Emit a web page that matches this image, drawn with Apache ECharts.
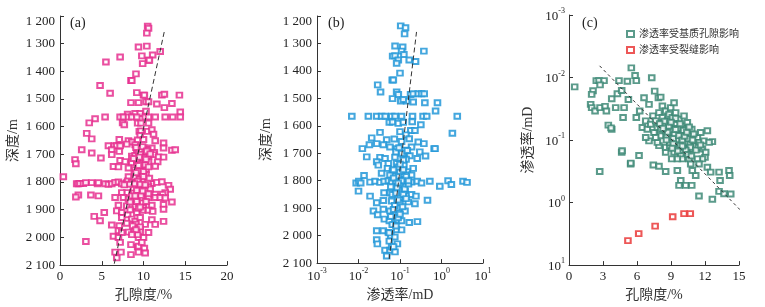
<!DOCTYPE html>
<html><head><meta charset="utf-8">
<script src="https://cdn.jsdelivr.net/npm/echarts@6/dist/echarts.min.js"></script>
<style>html,body{margin:0;padding:0;background:#fff}#c{width:765px;height:307px}</style>
</head><body><div id="c"></div>
<script>
// Panel (a): [porosity %, depth m]
const porosityDepth = [
[10.5,1237],[10.6,1244],[10.4,1262],[9.4,1312],[10.4,1309],[12.0,1328],[9.8,1344],[11.1,1341],[10.6,1360],[10.7,1360],[7.2,1348],[5.5,1366],[9.9,1372],[9.1,1409],[8.5,1433],[8.6,1433],[4.8,1451],[6.0,1479],[9.2,1477],[10.0,1486],[10.1,1486],[12.2,1486],[12.5,1483],[14.3,1486],[8.5,1513],[9.4,1513],[10.3,1510],[10.6,1510],[11.6,1518],[13.4,1516],[12.5,1531],[14.4,1547],[8.1,1555],[9.0,1552],[9.6,1552],[10.3,1544],
[5.4,1565],[7.2,1565],[7.6,1565],[8.2,1565],[8.6,1565],[9.2,1565],[10.2,1565],[10.6,1565],[11.4,1565],[12.6,1565],[13.5,1565],[14.4,1565],
[4.2,1571],[3.5,1586],[7.5,1586],[7.7,1593],[9.3,1587],[9.7,1587],[10.6,1587],
[9.5,1617],[9.7,1615],[10.5,1617],[11.0,1611],[11.2,1627],[9.6,1632],[3.2,1624],[3.8,1644],
[7.1,1646],[8.2,1651],[8.6,1655],[9.3,1648],[10.0,1646],[11.4,1651],[12.4,1659],
[5.8,1669],[6.5,1669],[6.8,1669],[7.2,1669],[8.0,1663],[9.0,1665],[10.1,1676],[11.0,1677],[12.4,1677],
[2.6,1683],[6.2,1683],[6.2,1701],[7.1,1689],[9.2,1683],[10.5,1683],[11.3,1693],[13.4,1685],[13.8,1683],
[3.8,1695],[4.9,1713],[8.6,1707],[9.0,1704],[9.6,1701],[10.0,1695],[10.6,1707],[11.2,1701],[11.8,1709],[12.4,1710],
[1.8,1719],[1.9,1734],[7.2,1722],[7.8,1726],[8.6,1730],[9.2,1728],[9.9,1725],[10.6,1727],[11.7,1727],
[6.4,1744],[7.0,1745],[8.2,1749],[9.0,1755],[9.9,1743],[10.3,1755],[11.4,1743],
[8.9,1769],[9.7,1768],[10.3,1773],[9.0,1782],[9.8,1779],[8.2,1781],[0.4,1781],
[2.0,1806],[2.2,1806],[2.4,1805],[2.8,1805],[3.1,1802],[3.8,1802],[4.5,1806],[4.6,1802],[5.4,1806],[5.8,1808],[6.2,1806],[6.6,1801],[7.0,1800],[7.4,1806],[8.0,1802],[8.1,1796],[8.6,1801],[9.2,1805],[9.7,1805],[9.9,1796],[10.4,1806],[11.0,1805],[11.6,1801],[12.2,1799],
[9.6,1791],[9.8,1826],[10.1,1820],[10.6,1814],
[13.0,1812],[13.2,1826],[12.6,1838],[12.3,1844],[11.4,1844],[10.3,1838],[9.4,1844],[8.8,1838],[8.0,1838],[7.4,1838],
[2.2,1847],[1.9,1854],[3.7,1847],[4.6,1850],
[6.6,1856],[7.6,1856],[8.2,1862],[9.0,1862],[9.8,1859],[10.6,1856],[11.4,1856],[12.0,1856],[12.6,1857],
[13.4,1872],[12.4,1881],[12.4,1898],[11.0,1884],[10.0,1886],[9.0,1888],[8.0,1886],[7.0,1884],
[4.1,1924],[4.8,1940],[5.3,1910],[6.8,1904],[7.4,1910],[8.1,1918],[9.2,1910],[9.9,1902],[10.6,1902],[11.1,1906],
[8.6,1934],[9.0,1942],[9.6,1928],[11.0,1936],[12.4,1942],[7.4,1928],
[6.2,1955],[7.1,1958],[8.0,1949],[9.1,1952],[10.2,1953],[11.4,1953],
[7.0,1976],[7.4,1982],[8.2,1981],[8.9,1976],[9.3,1973],[9.6,1979],[10.6,1982],
[6.4,1996],[7.0,2000],[9.4,2000],[10.0,2000],[3.1,2015],
[7.2,2018],[8.5,2026],[9.3,2035],[9.4,2032],[10.1,2039],[6.6,2053],[9.4,2053],[10.2,2056],[8.5,2062],[6.8,2074],[7.3,2053],
[9.4,1690],[9.8,1688],[10.2,1692],[9.6,1700],[10.0,1712],[9.2,1720],[9.6,1735],[10.2,1738],[9.4,1760],[10.0,1762],[9.5,1790],[10.0,1795],[10.5,1800],[9.0,1812],[9.4,1818],[10.2,1830],[8.8,1822],[9.2,1830],[10.8,1825],[9.7,1848],[8.6,1850],[9.2,1870],[9.9,1875],[9.4,1895],[8.4,1900],[9.2,1965],[9.6,1962],[9.3,1990],
[9.1,1675],[9.9,1672],[10.4,1688],[10.8,1698],[9.5,1710],[10.3,1718],[8.8,1715],[9.4,1740],[10.6,1745],[9.1,1766],[10.0,1780],[10.7,1786],[9.3,1797],[9.6,1808],[10.2,1810],[8.9,1806],[8.3,1808],[7.7,1810],[9.9,1832],[10.6,1842],[9.0,1850],[8.4,1872],[9.6,1890],[10.3,1870],[8.7,1958],[9.1,1972],[8.6,1990],[9.8,2018]
];
const porosityDepthTrend = [[6.5,2095],[12.5,1255]];

// Panel (b): [permeability mD, depth m]
const permeabilityDepth = [
[0.104,1236],[0.136,1243],[0.129,1265],[0.076,1309],[0.116,1313],[0.376,1328],[0.109,1328],[0.0665,1346],[0.076,1345],[0.124,1340],[0.091,1360],[0.083,1372],[0.167,1360],[0.237,1366],[0.10,1408],[0.065,1433],[0.069,1433],[0.029,1451],[0.034,1477],[0.083,1477],[0.091,1486],[0.18,1486],[0.208,1483],[0.275,1483],[0.33,1483],[0.383,1483],
[0.104,1510],[0.144,1510],[0.208,1513],[0.397,1516],[0.80,1516],[0.72,1546],[0.066,1501],[0.12,1504],
[0.0069,1565],[0.0173,1565],[0.0275,1565],[0.036,1565],[0.044,1565],[0.063,1565],[0.076,1565],[0.109,1565],[0.20,1565],[0.36,1565],[0.44,1565],[2.4,1565],
[0.0553,1587],[0.066,1586],[0.091,1591],[0.12,1587],[0.197,1585],[0.318,1596],[0.182,1617],[0.10,1621],[0.139,1633],[0.229,1617],[0.033,1624],[1.83,1627],
[0.0208,1644],[0.0183,1669],[0.0124,1683],[0.0478,1651],[0.073,1648],[0.109,1657],[0.167,1647],[0.275,1659],[0.376,1665],[0.665,1683],[0.70,1683],
[0.0275,1665],[0.0397,1669],[0.0574,1677],[0.083,1683],[0.132,1689],[0.19,1677],[0.30,1695],[0.412,1710],
[0.0158,1713],[0.033,1715],[0.0436,1719],[0.0757,1714],[0.12,1704],[0.173,1709],[0.26,1719],
[0.0275,1731],[0.030,1743],[0.0524,1737],[0.083,1737],[0.124,1743],[0.208,1755],[0.050,1755],
[0.066,1764],[0.10,1767],[0.15,1767],[0.15,1779],[0.19,1779],[0.091,1785],[0.0136,1781],[0.036,1773],[0.0574,1779],
[0.0088,1808],[0.0102,1802],[0.0113,1808],[0.019,1805],[0.0251,1802],[0.033,1806],[0.0413,1802],[0.0524,1800],[0.063,1805],[0.079,1802],[0.10,1805],[0.124,1800],[0.158,1805],[0.19,1805],[0.26,1802],[0.33,1808],[0.524,1802],[0.91,1820],[1.44,1800],[1.73,1814],[3.3,1802],[4.12,1806],
[0.0100,1838],[0.019,1856],[0.0413,1844],[0.0574,1844],[0.083,1838],[0.132,1838],[0.19,1850],[0.242,1856],[0.46,1871],
[0.0275,1880],[0.0397,1872],[0.063,1874],[0.10,1880],[0.158,1877],[0.229,1884],
[0.0229,1910],[0.029,1924],[0.0397,1904],[0.0574,1910],[0.091,1916],[0.132,1910],
[0.042,1940],[0.0553,1946],[0.083,1946],[0.109,1946],[0.167,1952],[0.263,1949],
[0.0275,1982],[0.0397,1982],[0.0524,1988],[0.083,1978],[0.109,1979],
[0.0275,2015],[0.0285,2030],[0.0553,2020],[0.0865,2030],[0.0436,2053],[0.0574,2053],[0.0757,2059],[0.063,2041],[0.0478,2074],
[0.08,1695],[0.11,1700],[0.14,1722],[0.09,1750],[0.12,1760],[0.07,1790],[0.1,1815],[0.085,1825],[0.13,1830],[0.065,1850],[0.1,1862],[0.075,1890],[0.115,1895],[0.06,1930],[0.09,1935],[0.07,1960],[0.06,2000],[0.075,2005],[0.13,1795],[0.16,1812],
[0.095,1680],[0.15,1690],[0.12,1725],[0.1,1740],[0.07,1760],[0.14,1785],[0.11,1800],[0.09,1808],[0.16,1800],[0.06,1822],[0.08,1845],[0.12,1850],[0.09,1870],[0.14,1865],[0.07,1905],[0.1,1922],[0.065,1960],[0.08,1965],[0.055,1990],[0.07,2040]
];
const permeabilityDepthTrend = [[0.055,2085],[0.25,1258]];

// Panel (c): [porosity %, permeability mD]
const matrixPoints = [
[0.5,0.0141],[2.41,0.0112],[2.65,0.0112],[3.09,0.0112],[2.74,0.0131],[2.12,0.0163],[2.0,0.0186],
[1.91,0.0269],[2.0,0.0303],[2.3,0.0343],[2.74,0.0303],[3.18,0.0289],[3.3,0.0343],[4.12,0.0303],[4.86,0.0303],[3.77,0.0218],[4.27,0.0182],[4.65,0.0161],
[3.47,0.0578],[3.77,0.067],[3.71,0.0638],
[4.41,0.0112],[5.15,0.0115],[5.94,0.0112],[5.83,0.0093],[5.5,0.0070],[7.3,0.0101],
[5.24,0.0224],[4.77,0.0437],[5.94,0.0437],[6.24,0.0343],[6.62,0.0211],[7.06,0.0269],[7.56,0.0165],[7.89,0.0211],[8.09,0.0206],
[4.65,0.157],[6.18,0.177],[5.44,0.241],[2.71,0.318],[7.44,0.25],[7.94,0.262],[8.53,0.318],[9.56,0.307],[4.68,0.148],[5.45,0.234],
[6.47,0.063],[6.77,0.0494],[6.91,0.067],[7.21,0.0558],[7.41,0.0411],[7.5,0.0756],[7.65,0.0494],[7.8,0.063],[7.94,0.0364],[8.09,0.0855],
[8.24,0.0285],[8.24,0.0437],[8.39,0.0593],[8.53,0.0711],[8.53,0.0343],[8.68,0.0494],[8.83,0.0908],[8.83,0.0387],[8.97,0.0593],[8.97,0.0303],
[9.12,0.0756],[9.12,0.0437],[9.27,0.109],[9.27,0.0253],[9.41,0.0558],[9.41,0.0364],[9.56,0.0855],[9.56,0.139],[9.71,0.067],[9.71,0.0465],
[9.86,0.109],[9.86,0.177],[10.0,0.0804],[10.0,0.0593],[10.15,0.131],[10.15,0.0411],[10.3,0.0965],[10.3,0.067],[10.44,0.157],[10.44,0.0525],
[10.59,0.116],[10.59,0.2],[10.74,0.0855],[10.83,0.067],[10.88,0.139],[11.03,0.103],[11.18,0.123],[11.33,0.0908],[11.47,0.109],[11.62,0.0756],
[11.77,0.139],[11.91,0.103],[12.06,0.157],[12.21,0.0711],[12.65,0.106],[12.36,0.109],[12.0,0.189],[11.77,0.2],[12.21,0.272],[12.5,0.326],
[11.33,0.2],[11.47,0.241],[11.18,0.369],[10.74,0.241],[10.88,0.307],[10.0,0.2],[9.56,0.2],[9.06,0.2],[8.53,0.157],[7.94,0.123],
[7.8,0.109],[7.06,0.103],[6.77,0.0908],[7.65,0.0908],[8.09,0.067],[8.53,0.131],[8.89,0.123],[9.27,0.157],
[13.24,0.326],[13.33,0.443],[14.12,0.307],[14.18,0.369],[13.24,0.662],[13.68,0.721],[14.27,0.729],[12.65,0.887],[11.47,0.785],
[9.86,0.443],[9.71,0.531],[10.3,0.531],[10.83,0.531],
[9.0,0.07],[9.3,0.08],[9.6,0.065],[9.9,0.09],[10.2,0.11],[9.5,0.1],[9.8,0.12],[8.8,0.06],[8.6,0.085],[10.5,0.095],[10.1,0.07],[9.2,0.095],[8.4,0.05],[8.0,0.055],[10.7,0.13],[11.0,0.08],[9.4,0.045],[8.9,0.11],[10.3,0.145],[11.4,0.13],
[8.7,0.075],[9.0,0.052],[9.4,0.068],[9.7,0.085],[10.0,0.1],[10.2,0.087],[10.4,0.075],[10.6,0.062],[10.0,0.125],[9.2,0.115],[8.6,0.1],[9.6,0.15],[10.9,0.1],[11.2,0.145],[8.3,0.065],[9.8,0.055],[10.5,0.17],[11.6,0.12],[9.1,0.135],[10.8,0.18]
];
const fracturePoints = [[5.2,4.06],[6.15,3.14],[7.6,2.38],[9.15,1.69],[10.15,1.5],[10.7,1.5]];
const porosityPermTrend = [[2.7,0.0065],[15.9,1.84]];

const legendNames = ['渗透率受基质孔隙影响','渗透率受裂缝影响'];
const panelTags = ['(a)','(b)','(c)'];

const FONT = "'Liberation Serif','Noto Sans CJK SC',serif";
const TXT = '#222';
const AX = '#333';
const chart = echarts.init(document.getElementById('c'));

function depthLabel(v){
  const s = String(v); const t = s.charAt(0) + ' ' + s.slice(1);
  return v === 1200 ? '{t|' + t + '}' : t;
}
const depthRich = {t:{fontSize:13,fontFamily:FONT,color:TXT,padding:[11,0,0,0]}};
function powLabel(v){ const e = Math.round(Math.log10(v)); return '{b|10}{s|' + e + '}'; }
const powRich = {
  b:{fontSize:13,fontFamily:FONT,color:TXT,lineHeight:16,verticalAlign:'bottom'},
  s:{fontSize:8,fontFamily:FONT,color:TXT,verticalAlign:'top'}
};
const axisLine = {show:true,lineStyle:{color:AX,width:1}};
const axisTick = {show:true,inside:true,length:4,lineStyle:{color:AX}};
const nameStyle = {fontSize:14,fontFamily:FONT,color:'#333'};

function dash(xi, data, pattern){
  return {type:'line',xAxisIndex:xi,yAxisIndex:xi,data:data,symbol:'none',silent:true,clip:false,
    lineStyle:{color:'#333',width:1,type:pattern},z:5};
}
function scatter(xi, name, data, color){
  return {type:'scatter',name:name,xAxisIndex:xi,yAxisIndex:xi,data:data,symbol:'emptyRect',symbolSize:[5.5,5],
    itemStyle:{color:color,borderColor:color,borderWidth:1,opacity:0.85},silent:true};
}

chart.setOption({
  animation:false,
  backgroundColor:'#fff',
  grid:[
    {left:60,top:16,width:167,height:251},
    {left:317,top:16,width:166,height:251},
    {left:569,top:15,width:170,height:252}
  ],
  xAxis:[
    {gridIndex:0,type:'value',min:0,max:20,interval:5,splitLine:{show:false},axisLine:axisLine,axisTick:axisTick,
     axisLabel:{margin:5,fontSize:13,fontFamily:FONT,color:TXT},
     name:'孔隙度/%',nameLocation:'middle',nameGap:22,nameTextStyle:nameStyle},
    {gridIndex:1,type:'log',logBase:10,min:0.001,max:10,splitLine:{show:false},axisLine:axisLine,axisTick:axisTick,
     axisLabel:{margin:4,formatter:powLabel,rich:powRich},
     name:'渗透率/mD',nameLocation:'middle',nameGap:22,nameTextStyle:nameStyle},
    {gridIndex:2,type:'value',min:0,max:15,interval:3,splitLine:{show:false},axisLine:axisLine,axisTick:axisTick,
     axisLabel:{margin:5,fontSize:13,fontFamily:FONT,color:TXT},
     name:'孔隙度/%',nameLocation:'middle',nameGap:22,nameTextStyle:nameStyle}
  ],
  yAxis:[
    {gridIndex:0,type:'value',min:1200,max:2100,interval:100,inverse:true,splitLine:{show:false},axisLine:axisLine,axisTick:axisTick,
     axisLabel:{margin:5,fontSize:13,fontFamily:FONT,color:TXT,formatter:depthLabel,rich:depthRich},
     name:'深度/m',nameLocation:'middle',nameGap:40,nameRotate:90,nameTextStyle:nameStyle},
    {gridIndex:1,type:'value',min:1200,max:2100,interval:100,inverse:true,splitLine:{show:false},axisLine:axisLine,axisTick:axisTick,
     axisLabel:{margin:5,fontSize:13,fontFamily:FONT,color:TXT,formatter:depthLabel,rich:depthRich},
     name:'深度/m',nameLocation:'middle',nameGap:44,nameRotate:90,nameTextStyle:nameStyle},
    {gridIndex:2,type:'log',logBase:10,min:0.001,max:10,inverse:true,splitLine:{show:false},axisLine:axisLine,axisTick:axisTick,
     axisLabel:{margin:4,formatter:powLabel,rich:powRich},
     name:'渗透率/mD',nameLocation:'middle',nameGap:34,nameRotate:90,nameTextStyle:nameStyle}
  ],
  legend:{
    data:legendNames,orient:'vertical',left:621,top:24,itemWidth:7,itemHeight:6,itemGap:6,
    textStyle:{fontSize:10,fontFamily:FONT,color:'#333'}
  },
  graphic:[
    {type:'text',left:70,top:16,style:{text:panelTags[0],font:"14px 'Liberation Serif'",fill:'#222'}},
    {type:'text',left:328,top:16,style:{text:panelTags[1],font:"14px 'Liberation Serif'",fill:'#222'}},
    {type:'text',left:582,top:16,style:{text:panelTags[2],font:"14px 'Liberation Serif'",fill:'#222'}}
  ],
  series:[
    scatter(0,'a',porosityDepth,'#e6308f'),
    dash(0,porosityDepthTrend,[5,3]),
    scatter(1,'b',permeabilityDepth,'#2398d8'),
    dash(1,permeabilityDepthTrend,[5,3]),
    scatter(2,legendNames[0],matrixPoints,'#3e8a77'),
    scatter(2,legendNames[1],fracturePoints,'#ea3a3a'),
    dash(2,porosityPermTrend,[3,3])
  ]
});
</script>
</body></html>
